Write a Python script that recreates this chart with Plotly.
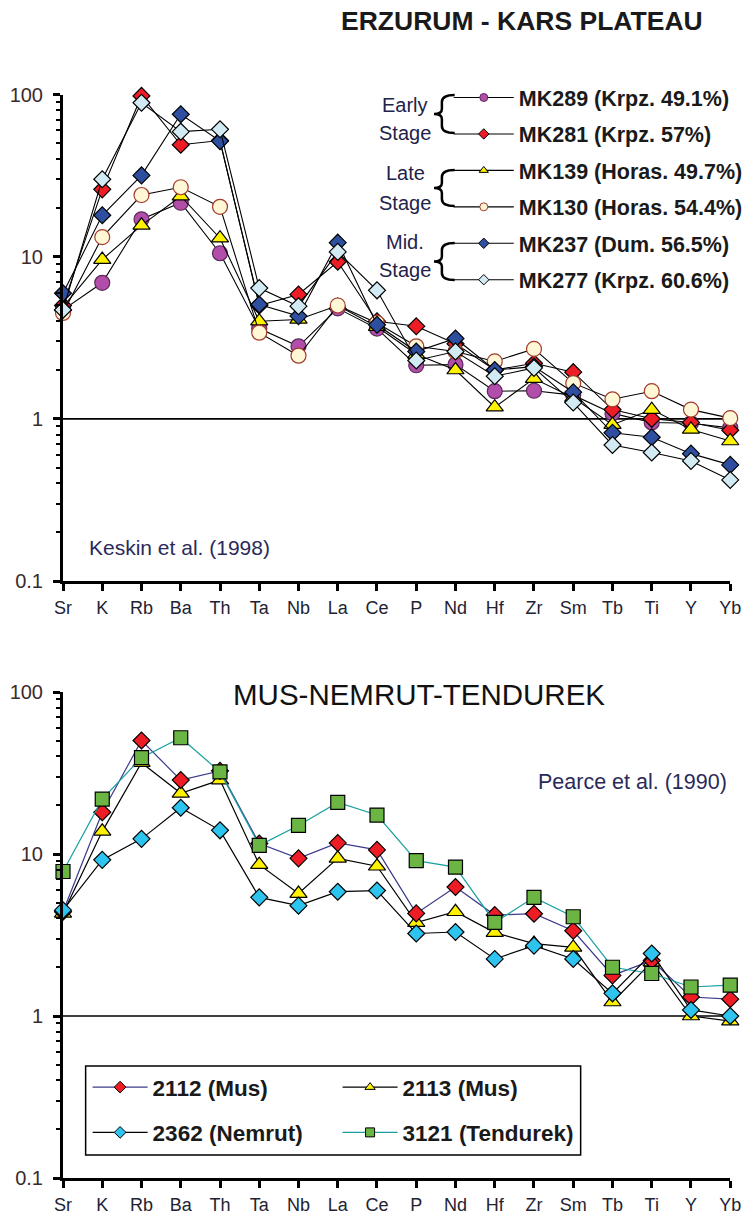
import plotly.graph_objects as go

# ---------------- data ----------------
elements = ["Sr", "K", "Rb", "Ba", "Th", "Ta", "Nb", "La", "Ce", "P",
            "Nd", "Hf", "Zr", "Sm", "Tb", "Ti", "Y", "Yb"]
x_idx = list(range(len(elements)))

# Erzurum - Kars plateau (Keskin et al. 1998)
mk289 = [4.7, 6.9, 17, 21.5, 10.5, 3.6, 2.8, 4.8, 3.6, 2.14, 2.16, 1.48, 1.49, 1.4, 1.08, 0.95, 0.94, 0.88]
mk281 = [5.0, 26, 98, 49, 52, 5.0, 5.85, 9.3, 4.0, 3.72, 2.9, 2.0, 2.2, 1.94, 1.14, 1.0, 0.95, 0.85]
mk139 = [4.9, 9.6, 15.6, 23.6, 13, 4.0, 4.1, 5.0, 3.7, 2.5, 2.0, 1.18, 1.77, 1.35, 0.92, 1.14, 0.86, 0.73]
mk130 = [4.5, 13.2, 24, 26.8, 20.3, 3.4, 2.45, 5.0, 3.9, 2.8, 2.6, 2.26, 2.7, 1.66, 1.32, 1.48, 1.14, 1.01]
mk237 = [5.95, 18, 31.7, 75.5, 51.6, 5.07, 4.3, 12.2, 3.8, 2.6, 3.13, 2.0, 2.1, 1.46, 0.82, 0.77, 0.61, 0.52]
mk277 = [4.7, 30, 89, 59, 61, 6.4, 4.95, 10.7, 6.2, 2.29, 2.6, 1.83, 2.06, 1.26, 0.69, 0.62, 0.55, 0.42]

top_names = ["MK289 (Krpz. 49.1%)", "MK281 (Krpz. 57%)", "MK139 (Horas. 49.7%)",
             "MK130 (Horas. 54.4%)", "MK237 (Dum. 56.5%)", "MK277 (Krpz. 60.6%)"]
stage_labels = [("Early", "Stage"), ("Late", "Stage"), ("Mid.", "Stage")]

# Mus - Nemrut - Tendurek (Pearce et al. 1990)
s2112 = [4.4, 18.1, 50.2, 28.6, 32.6, 11.6, 9.4, 11.7, 10.6, 4.3, 6.25, 4.2, 4.28, 3.36, 1.78, 2.2, 1.31, 1.27]
s2113 = [4.3, 13.8, 36.6, 23.7, 28.6, 8.6, 5.7, 9.4, 8.4, 3.77, 4.4, 3.27, 2.8, 2.65, 1.22, 2.15, 1.0, 0.93]
s2362 = [4.5, 9.2, 12.4, 19.3, 14.0, 5.4, 4.8, 5.85, 5.95, 3.23, 3.3, 2.25, 2.72, 2.25, 1.38, 2.43, 1.09, 1.0]
s3121 = [7.8, 21.8, 39.3, 52.2, 32.1, 11.3, 15.0, 20.8, 17.4, 9.1, 8.3, 3.78, 5.4, 4.1, 2.0, 1.83, 1.51, 1.55]

bot_names = ["2112 (Mus)", "2113 (Mus)", "2362 (Nemrut)", "3121 (Tendurek)"]

y_ticks = [0.1, 1, 10, 100]
y_ticktext = ["0.1", "1", "10", "100"]

# ---------------- layout helpers ----------------
W, H = 756, 1222
L, R, T, B = 63, 0, 40, 44
PW, PH = W - L - R, H - T - B
FONT = "Liberation Sans, Arial, Helvetica, sans-serif"


def pxx(px):
    return (px - L) / PW


def pxy(py):
    return (H - B - py) / PH


minor_vals = [m * 10 ** e for e in range(-1, 2) for m in range(2, 10)]

fig = go.Figure()

# reference lines at 1
for xa, ya in (("x", "y"), ("x2", "y2")):
    fig.add_trace(go.Scatter(x=[x_idx[0], x_idx[-1]], y=[1, 1], mode="lines",
                             line=dict(color="black", width=1.6), showlegend=False,
                             hoverinfo="skip", xaxis=xa, yaxis=ya))

# ---------------- top chart ----------------
top_series = [
    (mk289, top_names[0], "circle", "#b24ea9", "#5a2a5a", 15),
    (mk281, top_names[1], "diamond", "#ee1c24", "#000000", 13),
    (mk139, top_names[2], "triangle-up", "#fff200", "#000000", 15),
    (mk130, top_names[3], "circle", "#fff7d6", "#a33a2a", 15),
    (mk237, top_names[4], "diamond", "#2e4f9f", "#000000", 13),
    (mk277, top_names[5], "diamond", "#d2eaf3", "#000000", 13),
]
for vals, name, sym, fc, lc, sz in top_series:
    fig.add_trace(go.Scatter(
        x=x_idx, y=vals, mode="lines+markers", name=name, showlegend=False,
        line=dict(color="black", width=1.1),
        marker=dict(symbol=sym, size=sz, color=fc, line=dict(color=lc, width=1.2)),
        cliponaxis=False, xaxis="x", yaxis="y"))
for vals, name, sym, fc, lc, sz in top_series:
    fig.add_trace(go.Scatter(
        x=[None], y=[None], mode="lines+markers", name=name, legend="legend",
        legendgroup=name,
        line=dict(color="black", width=1.1),
        marker=dict(symbol=sym, size=8, color=fc, line=dict(color=lc, width=1)),
        xaxis="x", yaxis="y"))

# ---------------- bottom chart ----------------
bot_series = {
    "2113": (s2113, bot_names[1], "triangle-up", "#fff200", "#000000", 15, "#000000", "legend3"),
    "2112": (s2112, bot_names[0], "diamond", "#ee1c24", "#3b3b8c", 13, "#3b3b8c", "legend2"),
    "3121": (s3121, bot_names[3], "square", "#6ab543", "#000000", 14, "#18a0a0", "legend3"),
    "2362": (s2362, bot_names[2], "diamond", "#2ec4f0", "#000000", 13, "#000000", "legend2"),
}
for key in ("2113", "2112", "3121", "2362"):
    vals, name, sym, fc, lc, sz, linec, lg = bot_series[key]
    fig.add_trace(go.Scatter(
        x=x_idx, y=vals, mode="lines+markers", name=name, showlegend=False,
        line=dict(color=linec, width=1.2),
        marker=dict(symbol=sym, size=sz, color=fc, line=dict(color="black", width=1.2)),
        cliponaxis=False, xaxis="x2", yaxis="y2"))
for key in ("2112", "2362", "2113", "3121"):
    vals, name, sym, fc, lc, sz, linec, lg = bot_series[key]
    fig.add_trace(go.Scatter(
        x=[None], y=[None], mode="lines+markers", name=name, legend=lg,
        legendgroup=name,
        line=dict(color=linec, width=1.2),
        marker=dict(symbol=sym, size=9, color=fc, line=dict(color="black", width=1)),
        xaxis="x2", yaxis="y2"))

# ---------------- axes ----------------
x_dom = [0, pxx(741)]
xcommon = dict(range=[0, 17], tickmode="array", tickvals=x_idx, ticktext=elements,
               ticks="outside", ticklen=7, tickwidth=3, tickcolor="black",
               showline=True, linewidth=3, linecolor="black", showgrid=False,
               zeroline=False, ticklabelstandoff=1, domain=x_dom,
               tickfont=dict(family=FONT, size=18, color="#222233"))
ycommon = dict(type="log", range=[-1, 2], tickmode="array", tickvals=y_ticks,
               ticktext=y_ticktext, ticks="outside", ticklen=7, tickwidth=3,
               tickcolor="black", showline=True, linewidth=3, linecolor="black",
               showgrid=False, zeroline=False, ticklabelstandoff=6,
               minor=dict(tickmode="array", tickvals=minor_vals, ticks="outside",
                          ticklen=4, tickwidth=2, tickcolor="black", showgrid=False),
               tickfont=dict(family=FONT, size=20, color="#3a2a2a"))

top_dom = [pxy(581), pxy(94.5)]
bot_dom = [0, pxy(692)]

legfont = dict(family=FONT, size=21.5, color="#1a1a1a", weight="bold")
botfont = dict(family=FONT, size=22.5, color="#1a1a1a", weight="bold")

fig.update_layout(
    width=W, height=H, margin=dict(l=L, r=R, t=T, b=B),
    paper_bgcolor="white", plot_bgcolor="white",
    font=dict(family=FONT, color="#222"),
    xaxis=dict(anchor="y", **xcommon),
    yaxis=dict(anchor="x", domain=top_dom, **ycommon),
    xaxis2=dict(anchor="y2", **xcommon),
    yaxis2=dict(anchor="x2", domain=bot_dom, **ycommon),
    legend=dict(x=pxx(455), y=pxy(77), xanchor="left", yanchor="top",
                traceorder="grouped", tracegroupgap=5.5, bgcolor="rgba(0,0,0,0)",
                borderwidth=0, itemwidth=60, font=legfont),
    legend2=dict(x=pxx(88), y=pxy(1066), xanchor="left", yanchor="top",
                 traceorder="grouped", tracegroupgap=13, bgcolor="rgba(0,0,0,0)",
                 borderwidth=0, itemwidth=55, font=botfont),
    legend3=dict(x=pxx(342), y=pxy(1066), xanchor="left", yanchor="top",
                 traceorder="grouped", tracegroupgap=13, bgcolor="rgba(0,0,0,0)",
                 borderwidth=0, itemwidth=55, font=botfont),
)

# ---------------- annotations ----------------
ann = []
ann.append(dict(text="ERZURUM - KARS PLATEAU", x=pxx(529), y=pxy(21), xref="paper", yref="paper",
                xanchor="center", yanchor="middle", showarrow=False,
                font=dict(family=FONT, size=26.5, color="#1a1a1a", weight="bold")))
ann.append(dict(text="MUS-NEMRUT-TENDUREK", x=pxx(425), y=pxy(694), xref="paper", yref="paper",
                xanchor="center", yanchor="middle", showarrow=False,
                font=dict(family=FONT, size=29.5, color="#111")))
ann.append(dict(text="Keskin et al. (1998)", x=pxx(87), y=pxy(547), xref="paper", yref="paper",
                xanchor="left", yanchor="middle", showarrow=False,
                font=dict(family=FONT, size=21, color="#2a2a5a")))
ann.append(dict(text="Pearce et al. (1990)", x=pxx(544), y=pxy(782), xref="paper", yref="paper",
                xanchor="left", yanchor="middle", showarrow=False,
                font=dict(family=FONT, size=21.5, color="#2a2a5a")))

stage_y = [(105, 133), (173, 203), (242, 270)]
for (w1, w2), (y1, y2) in zip(stage_labels, stage_y):
    for w, yy in ((w1, y1), (w2, y2)):
        ann.append(dict(text=w, x=pxx(411), y=pxy(yy), xref="paper", yref="paper",
                        xanchor="center", yanchor="middle", showarrow=False,
                        font=dict(family=FONT, size=20, color="#22224a")))
fig.update_layout(annotations=ann)

# braces and bottom legend frame
shapes = []
item_y = [(95, 133), (170, 206), (243, 280)]
xb, xh, xp = 448, 461, 440
for ty, by in item_y:
    mid = (ty + by) / 2
    pts = [("M", xh, ty), ("Q", xb, ty), ("", xb, ty + 7), ("L", xb, mid - 5),
           ("Q", xb, mid), ("", xp, mid), ("Q", xb, mid), ("", xb, mid + 5),
           ("L", xb, by - 7), ("Q", xb, by), ("", xh, by)]
    path = " ".join(f"{c} {pxx(a):.5f},{pxy(b):.5f}".strip() for c, a, b in pts)
    shapes.append(dict(type="path", path=path, xref="paper", yref="paper",
                       line=dict(color="black", width=2.5)))
shapes.append(dict(type="rect", xref="paper", yref="paper",
                   x0=pxx(86), x1=pxx(589), y0=pxy(1066), y1=pxy(1155),
                   line=dict(color="black", width=1.5)))
fig.update_layout(shapes=shapes)

fig.write_html("out.html",
               config={"displayModeBar": False, "staticPlot": True},
               post_script="document.body.style.margin='0';"
                           "document.documentElement.style.overflow='hidden';")
